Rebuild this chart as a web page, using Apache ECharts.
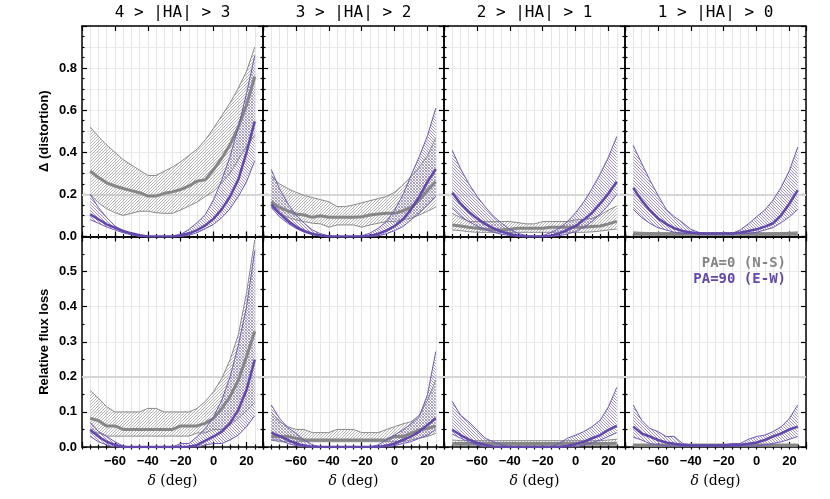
<!DOCTYPE html>
<html><head><meta charset="utf-8">
<script src="https://cdn.jsdelivr.net/npm/echarts@6/dist/echarts.min.js"></script>
<style>html,body{margin:0;padding:0;background:#fff}#c{width:830px;height:499px}</style>
</head><body><div id="c"></div>
<script>
// ---------------- data ----------------
const DELTA = [-75,-70,-65,-60,-55,-50,-45,-40,-35,-30,-25,-20,-15,-10,-5,0,5,10,15,20,25];
const COLUMN_TITLES = ['4 > |HA| > 3', '3 > |HA| > 2', '2 > |HA| > 1', '1 > |HA| > 0'];
const ROW_NAMES = ['Δ (distortion)', 'Relative flux loss'];
const X_TICK_LABELS = [-60, -40, -20, 0, 20];
const Y_TICK_LABELS_TOP = [0, 0.2, 0.4, 0.6, 0.8];
const Y_TICK_LABELS_BOTTOM = [0, 0.1, 0.2, 0.3, 0.4, 0.5];
const LEGEND_LABELS = ['PA=0 (N-S)', 'PA=90 (E-W)'];
const REF_LEVEL = 0.2;

// Distortion, 4>|HA|>3
const D43_GRAY_HI  = [0.52,0.475,0.435,0.40,0.365,0.34,0.315,0.29,0.29,0.31,0.33,0.355,0.385,0.415,0.46,0.515,0.575,0.635,0.705,0.785,0.90];
const D43_GRAY_MED = [0.31,0.28,0.255,0.24,0.228,0.218,0.208,0.192,0.192,0.205,0.212,0.223,0.24,0.263,0.27,0.318,0.373,0.436,0.52,0.625,0.76];
const D43_GRAY_LO  = [0.20,0.16,0.132,0.113,0.10,0.11,0.12,0.12,0.113,0.11,0.11,0.126,0.145,0.164,0.19,0.215,0.255,0.30,0.365,0.43,0.48];
const D43_PURP_HI  = [0.20,0.137,0.09,0.05,0.026,0.01,0.003,0,0,0,0,0.01,0.034,0.066,0.105,0.176,0.27,0.38,0.52,0.68,0.86];
const D43_PURP_MED = [0.105,0.082,0.058,0.042,0.026,0.015,0.006,0,0,0,0,0.006,0.015,0.03,0.053,0.085,0.13,0.19,0.27,0.40,0.547];
const D43_PURP_LO  = [0.08,0.063,0.045,0.031,0.018,0.008,0,0,0,0,0,0,0.006,0.018,0.037,0.058,0.09,0.132,0.19,0.26,0.36];
// Distortion, 3>|HA|>2
const D32_GRAY_HI  = [0.285,0.25,0.228,0.21,0.195,0.185,0.175,0.165,0.142,0.142,0.15,0.16,0.17,0.18,0.19,0.21,0.245,0.285,0.33,0.385,0.47];
const D32_GRAY_MED = [0.165,0.138,0.122,0.107,0.102,0.091,0.099,0.091,0.091,0.091,0.091,0.094,0.102,0.107,0.11,0.11,0.122,0.14,0.173,0.22,0.26];
const D32_GRAY_LO  = [0.138,0.11,0.091,0.079,0.071,0.063,0.06,0.044,0.055,0.055,0.055,0.044,0.055,0.063,0.071,0.071,0.079,0.087,0.102,0.12,0.14];
const D32_PURP_HI  = [0.318,0.228,0.157,0.102,0.063,0.031,0.013,0.003,0,0,0,0.003,0.016,0.039,0.071,0.126,0.197,0.291,0.38,0.48,0.61];
const D32_PURP_MED = [0.153,0.11,0.075,0.047,0.027,0.013,0.005,0,0,0,0,0,0.003,0.013,0.028,0.05,0.081,0.129,0.189,0.26,0.32];
const D32_PURP_LO  = [0.138,0.094,0.063,0.039,0.02,0.009,0.003,0,0,0,0,0,0,0.003,0.013,0.028,0.047,0.079,0.113,0.15,0.192];
// Distortion, 2>|HA|>1
const D21_GRAY_HI  = [0.11,0.09,0.071,0.071,0.071,0.071,0.071,0.071,0.066,0.06,0.06,0.071,0.071,0.071,0.071,0.079,0.082,0.086,0.102,0.126,0.145];
const D21_GRAY_MED = [0.055,0.05,0.044,0.039,0.034,0.031,0.031,0.034,0.039,0.039,0.039,0.039,0.044,0.044,0.044,0.044,0.044,0.047,0.05,0.06,0.072];
const D21_GRAY_LO  = [0.031,0.028,0.023,0.02,0.02,0.02,0.02,0.02,0.02,0.02,0.02,0.02,0.02,0.02,0.02,0.02,0.02,0.022,0.026,0.031,0.036];
const D21_PURP_HI  = [0.41,0.323,0.252,0.192,0.141,0.097,0.063,0.034,0.015,0.004,0,0.004,0.019,0.039,0.071,0.113,0.165,0.228,0.299,0.378,0.475];
const D21_PURP_MED = [0.208,0.157,0.118,0.086,0.06,0.039,0.023,0.012,0.004,0,0,0,0.004,0.015,0.031,0.05,0.079,0.113,0.157,0.205,0.26];
const D21_PURP_LO  = [0.134,0.097,0.071,0.05,0.034,0.02,0.011,0.004,0,0,0,0,0,0.004,0.012,0.023,0.044,0.071,0.107,0.149,0.2];
// Distortion, 1>|HA|>0
const D10_GRAY_HI  = [0.022,0.02,0.019,0.018,0.018,0.018,0.018,0.018,0.018,0.018,0.018,0.018,0.018,0.018,0.018,0.018,0.018,0.018,0.019,0.02,0.022];
const D10_GRAY_MED = [0.013,0.013,0.012,0.012,0.012,0.012,0.012,0.012,0.012,0.012,0.012,0.012,0.012,0.012,0.012,0.012,0.012,0.012,0.012,0.013,0.013];
const D10_GRAY_LO  = [0.006,0.006,0.006,0.006,0.006,0.006,0.006,0.006,0.006,0.006,0.006,0.006,0.006,0.006,0.006,0.006,0.006,0.006,0.006,0.006,0.006];
const D10_PURP_HI  = [0.433,0.35,0.27,0.197,0.129,0.094,0.066,0.034,0.019,0.014,0.014,0.014,0.014,0.031,0.06,0.094,0.126,0.173,0.236,0.315,0.425];
const D10_PURP_MED = [0.231,0.173,0.126,0.087,0.06,0.039,0.026,0.019,0.014,0.014,0.014,0.014,0.014,0.019,0.026,0.034,0.047,0.063,0.102,0.157,0.22];
const D10_PURP_LO  = [0.129,0.091,0.063,0.042,0.031,0.02,0.014,0.014,0.014,0.014,0.014,0.014,0.014,0.014,0.014,0.02,0.031,0.042,0.066,0.094,0.129];

// Relative flux loss, 4>|HA|>3
const F43_GRAY_HI  = [0.161,0.139,0.115,0.10,0.10,0.10,0.10,0.11,0.11,0.10,0.10,0.10,0.10,0.11,0.13,0.158,0.196,0.249,0.32,0.44,0.59];
const F43_GRAY_MED = [0.082,0.075,0.06,0.06,0.05,0.05,0.05,0.05,0.05,0.05,0.05,0.06,0.06,0.06,0.068,0.082,0.11,0.144,0.19,0.258,0.33];
const F43_GRAY_LO  = [0.04,0.04,0.031,0.031,0.031,0.031,0.031,0.031,0.031,0.031,0.031,0.031,0.031,0.04,0.04,0.05,0.05,0.063,0.082,0.104,0.127];
const F43_PURP_HI  = [0.07,0.044,0.03,0.015,0.003,0,0,0,0,0,0,0.01,0.01,0.03,0.053,0.087,0.134,0.20,0.29,0.40,0.56];
const F43_PURP_MED = [0.049,0.03,0.015,0.006,0,0,0,0,0,0,0,0,0.001,0.006,0.018,0.03,0.044,0.068,0.106,0.163,0.249];
const F43_PURP_LO  = [0.03,0.015,0.006,0,0,0,0,0,0,0,0,0,0,0,0.006,0.01,0.01,0.02,0.034,0.058,0.089];
// Relative flux loss, 3>|HA|>2
const F32_GRAY_HI  = [0.10,0.072,0.058,0.05,0.05,0.041,0.041,0.041,0.05,0.05,0.05,0.041,0.041,0.041,0.05,0.058,0.066,0.072,0.091,0.134,0.191];
const F32_GRAY_MED = [0.03,0.03,0.03,0.025,0.02,0.02,0.02,0.02,0.02,0.02,0.02,0.02,0.02,0.02,0.02,0.03,0.03,0.039,0.049,0.053,0.06];
const F32_GRAY_LO  = [0.02,0.015,0.015,0.015,0.015,0.015,0.015,0.015,0.015,0.015,0.015,0.015,0.015,0.015,0.015,0.015,0.015,0.02,0.025,0.03,0.039];
const F32_PURP_HI  = [0.12,0.082,0.056,0.039,0.02,0.006,0.001,0,0,0,0,0,0,0.006,0.02,0.034,0.049,0.066,0.087,0.15,0.272];
const F32_PURP_MED = [0.041,0.031,0.02,0.01,0.004,0,0,0,0,0,0,0,0,0,0.004,0.01,0.02,0.03,0.044,0.063,0.082];
const F32_PURP_LO  = [0.02,0.02,0.01,0.004,0,0,0,0,0,0,0,0,0,0,0,0.004,0.01,0.015,0.025,0.034,0.049];
// Relative flux loss, 2>|HA|>1
const F21_GRAY_HI  = [0.02,0.018,0.018,0.018,0.018,0.018,0.018,0.018,0.018,0.018,0.018,0.018,0.018,0.018,0.018,0.018,0.018,0.018,0.018,0.02,0.022];
const F21_GRAY_MED = [0.01,0.01,0.01,0.01,0.01,0.01,0.01,0.01,0.01,0.01,0.01,0.01,0.01,0.01,0.01,0.01,0.01,0.01,0.01,0.01,0.011];
const F21_GRAY_LO  = [0.005,0.005,0.005,0.005,0.005,0.005,0.005,0.005,0.005,0.005,0.005,0.005,0.005,0.005,0.005,0.005,0.005,0.005,0.005,0.005,0.005];
const F21_PURP_HI  = [0.13,0.091,0.072,0.049,0.025,0.015,0.006,0.001,0,0,0,0,0,0.01,0.025,0.034,0.044,0.058,0.077,0.115,0.17];
const F21_PURP_MED = [0.049,0.034,0.022,0.012,0.006,0.001,0,0,0,0,0,0,0,0,0.003,0.009,0.015,0.025,0.034,0.049,0.06];
const F21_PURP_LO  = [0.037,0.025,0.015,0.006,0,0,0,0,0,0,0,0,0,0,0,0,0.006,0.012,0.02,0.03,0.041];
// Relative flux loss, 1>|HA|>0
const F10_GRAY_HI  = [0.008,0.008,0.008,0.008,0.008,0.008,0.008,0.008,0.008,0.008,0.008,0.008,0.008,0.008,0.008,0.008,0.008,0.008,0.008,0.008,0.008];
const F10_GRAY_MED = [0.005,0.005,0.005,0.005,0.005,0.005,0.005,0.005,0.005,0.005,0.005,0.005,0.005,0.005,0.005,0.005,0.005,0.005,0.005,0.005,0.005];
const F10_GRAY_LO  = [0.003,0.003,0.003,0.003,0.003,0.003,0.003,0.003,0.003,0.003,0.003,0.003,0.003,0.003,0.003,0.003,0.003,0.003,0.003,0.003,0.003];
const F10_PURP_HI  = [0.12,0.077,0.053,0.044,0.03,0.03,0.01,0.006,0.006,0.006,0.006,0.006,0.01,0.01,0.022,0.03,0.034,0.044,0.058,0.082,0.12];
const F10_PURP_MED = [0.058,0.039,0.03,0.02,0.013,0.009,0.006,0.004,0.004,0.004,0.004,0.004,0.004,0.006,0.009,0.013,0.02,0.03,0.039,0.05,0.058];
const F10_PURP_LO  = [0.028,0.02,0.01,0.006,0.003,0.003,0.003,0.003,0.003,0.003,0.003,0.003,0.003,0.003,0.003,0.003,0.006,0.01,0.015,0.022,0.03];

// --------------- layout / style ---------------
const LEFT0 = 82, PW = 181, TOP0 = 26, PH = 210.5;
const GRAY_LINE = '#8a8a8a', GRAY_MED = '#868686';
const PURP_LINE = '#7059bb', PURP_MED = '#6248aa';
const AXIS_COLOR = '#000';
const LABEL_FONT = 'Liberation Sans';

const PANELS = [
  [D43_GRAY_LO,D43_GRAY_MED,D43_GRAY_HI,D43_PURP_LO,D43_PURP_MED,D43_PURP_HI],
  [D32_GRAY_LO,D32_GRAY_MED,D32_GRAY_HI,D32_PURP_LO,D32_PURP_MED,D32_PURP_HI],
  [D21_GRAY_LO,D21_GRAY_MED,D21_GRAY_HI,D21_PURP_LO,D21_PURP_MED,D21_PURP_HI],
  [D10_GRAY_LO,D10_GRAY_MED,D10_GRAY_HI,D10_PURP_LO,D10_PURP_MED,D10_PURP_HI],
  [F43_GRAY_LO,F43_GRAY_MED,F43_GRAY_HI,F43_PURP_LO,F43_PURP_MED,F43_PURP_HI],
  [F32_GRAY_LO,F32_GRAY_MED,F32_GRAY_HI,F32_PURP_LO,F32_PURP_MED,F32_PURP_HI],
  [F21_GRAY_LO,F21_GRAY_MED,F21_GRAY_HI,F21_PURP_LO,F21_PURP_MED,F21_PURP_HI],
  [F10_GRAY_LO,F10_GRAY_MED,F10_GRAY_HI,F10_PURP_LO,F10_PURP_MED,F10_PURP_HI]
];

function hatch(color, dir) {
  const c = document.createElement('canvas');
  c.width = 3; c.height = 3;
  const g = c.getContext('2d');
  g.fillStyle = color;
  for (let i = 0; i < 3; i++) g.fillRect(i, dir > 0 ? 2 - i : i, 1, 1);
  return c;
}
const GRAY_PATTERN = { image: hatch('#b4b4b4', 1), repeat: 'repeat' };
const PURP_PATTERN = { image: hatch('#a193d3', -1), repeat: 'repeat' };

const pairs = arr => DELTA.map((d, i) => [d, arr[i]]);
const fmtX = v => X_TICK_LABELS.includes(v) ? String(v).replace('-', '\u2212') : '';

function bandSeries(p, lo, hi, pattern, z) {
  return {
    type: 'custom', xAxisIndex: p * 4, yAxisIndex: p * 3, z: z, silent: true,
    data: DELTA.map((d, i) => [d, lo[i], hi[i]]),
    encode: { x: 0, y: [1, 2] },
    renderItem: function (params, api) {
      if (params.dataIndexInside !== 0) return null;
      const n = params.dataInsideLength;
      const top = [], bot = [];
      for (let i = 0; i < n; i++) {
        top.push(api.coord([api.value(0, i), api.value(2, i)]));
        bot.push(api.coord([api.value(0, i), api.value(1, i)]));
      }
      return { type: 'polygon', shape: { points: top.concat(bot.reverse()) }, style: { fill: pattern } };
    }
  };
}

const grids = [], xAxes = [], yAxes = [], series = [];
for (let p = 0; p < 8; p++) {
  const row = Math.floor(p / 4), col = p % 4;
  grids.push({ left: LEFT0 + col * PW, top: TOP0 + row * PH, width: PW, height: PH });
  const tickLine = { color: AXIS_COLOR, width: 1.2 };
  const axLine = { show: true, onZero: false, lineStyle: { color: AXIS_COLOR, width: 1.5 } };
  xAxes.push({
    gridIndex: p, type: 'value', position: 'bottom', min: -80, max: 30, interval: 20,
    axisLine: axLine, axisTick: { show: true, inside: true, length: 5, lineStyle: tickLine },
    splitLine: { show: false },
    axisLabel: { show: row === 1, margin: 8, formatter: fmtX, color: '#000', fontWeight: 'bold', fontSize: 13, fontFamily: LABEL_FONT },
    name: row === 1 ? '{d|δ} {n|(deg)}' : '', nameLocation: 'middle', nameGap: 27,
    nameTextStyle: { color: '#000', fontSize: 14, fontFamily: 'DejaVu Serif',
      rich: { d: { fontStyle: 'italic', fontFamily: 'DejaVu Serif', fontSize: 14, color: '#000' },
              n: { fontFamily: 'DejaVu Serif', fontSize: 14, color: '#000' } } }
  });
  xAxes.push({
    gridIndex: p, type: 'value', position: 'bottom', min: -80, max: 30, interval: 5,
    axisLine: { show: false }, axisTick: { show: true, inside: true, length: 2.5, lineStyle: tickLine },
    splitLine: { show: true, lineStyle: { color: '#e6e6e6', width: 1 } }, axisLabel: { show: false }
  });
  xAxes.push({
    gridIndex: p, type: 'value', position: 'top', min: -80, max: 30, interval: 20,
    axisLine: axLine, axisTick: { show: true, inside: true, length: 5, lineStyle: tickLine },
    splitLine: { show: false }, axisLabel: { show: false }
  });
  xAxes.push({
    gridIndex: p, type: 'value', position: 'top', min: -80, max: 30, interval: 5,
    axisLine: { show: false }, axisTick: { show: true, inside: true, length: 2.5, lineStyle: tickLine },
    splitLine: { show: false }, axisLabel: { show: false }
  });
  const yMax = row === 0 ? 1.0 : 0.6, yInt = row === 0 ? 0.2 : 0.1, yMinor = row === 0 ? 4 : 2;
  const yLabels = row === 0 ? Y_TICK_LABELS_TOP : Y_TICK_LABELS_BOTTOM;
  yAxes.push({
    gridIndex: p, type: 'value', position: 'left', min: 0, max: yMax, interval: yInt,
    axisLine: axLine, axisTick: { show: true, inside: true, length: 5, lineStyle: tickLine },
    minorTick: { show: true, splitNumber: yMinor, length: 2.5, lineStyle: tickLine },
    splitLine: { show: false },
    axisLabel: { show: col === 0, margin: 5, color: '#000', fontWeight: 'bold', fontSize: 13, fontFamily: LABEL_FONT,
      formatter: v => yLabels.some(t => Math.abs(t - v) < 1e-9) ? v.toFixed(1) : '' },
    name: col === 0 ? ROW_NAMES[row] : '', nameLocation: 'middle', nameGap: 31,
    nameTextStyle: { color: '#000', fontWeight: 'bold', fontSize: 13, fontFamily: LABEL_FONT }
  });
  yAxes.push({
    gridIndex: p, type: 'value', position: 'left', min: 0, max: yMax, interval: 0.1,
    axisLine: { show: false }, axisTick: { show: false }, axisLabel: { show: false },
    splitLine: { show: true, lineStyle: { color: '#ebebeb', width: 1 } }
  });
  yAxes.push({
    gridIndex: p, type: 'value', position: 'right', min: 0, max: yMax, interval: yInt,
    axisLine: axLine, axisTick: { show: true, inside: true, length: 5, lineStyle: tickLine },
    minorTick: { show: true, splitNumber: yMinor, length: 2.5, lineStyle: tickLine },
    splitLine: { show: false }, axisLabel: { show: false }
  });

  const [gLo, gMed, gHi, pLo, pMed, pHi] = PANELS[p];
  const xi = p * 4, yi = p * 3;
  const base = { type: 'line', xAxisIndex: xi, yAxisIndex: yi, symbol: 'none', silent: true };
  series.push(bandSeries(p, gLo, gHi, GRAY_PATTERN, 2));
  series.push(bandSeries(p, pLo, pHi, PURP_PATTERN, 3));
  series.push(Object.assign({}, base, {
    data: pairs(gLo), z: 4, lineStyle: { color: GRAY_LINE, width: 1 },
    markLine: { silent: true, symbol: 'none', z: 1, label: { show: false },
      lineStyle: { color: '#d6d6d6', width: 2, type: 'solid' }, data: [{ yAxis: REF_LEVEL }] }
  }));
  series.push(Object.assign({}, base, { data: pairs(gHi), z: 4, lineStyle: { color: GRAY_LINE, width: 1 } }));
  series.push(Object.assign({}, base, { data: pairs(gMed), z: 5, lineStyle: { color: GRAY_MED, width: 3 } }));
  series.push(Object.assign({}, base, { data: pairs(pLo), z: 6, lineStyle: { color: PURP_LINE, width: 1 } }));
  series.push(Object.assign({}, base, { data: pairs(pHi), z: 6, lineStyle: { color: PURP_LINE, width: 1 } }));
  series.push(Object.assign({}, base, { data: pairs(pMed), z: 7, lineStyle: { color: PURP_MED, width: 2.5 } }));
}

const graphics = COLUMN_TITLES.map((t, c) => ({
  type: 'text', x: LEFT0 + c * PW + PW / 2, y: 13, z: 100,
  style: { text: t, fill: '#000', font: '16px "DejaVu Sans Mono"', textAlign: 'center', textVerticalAlign: 'middle' }
}));
graphics.push({ type: 'text', x: 786, y: 263, z: 100,
  style: { text: LEGEND_LABELS[0], fill: GRAY_MED, font: 'bold 14px "DejaVu Sans Mono"', textAlign: 'right', textVerticalAlign: 'middle' } });
graphics.push({ type: 'text', x: 786, y: 279, z: 100,
  style: { text: LEGEND_LABELS[1], fill: PURP_MED, font: 'bold 14px "DejaVu Sans Mono"', textAlign: 'right', textVerticalAlign: 'middle' } });

const chart = echarts.init(document.getElementById('c'), null, { renderer: 'canvas' });
chart.setOption({
  animation: false,
  backgroundColor: '#fff',
  grid: grids, xAxis: xAxes, yAxis: yAxes, series: series, graphic: graphics
});
</script>
</body></html>
